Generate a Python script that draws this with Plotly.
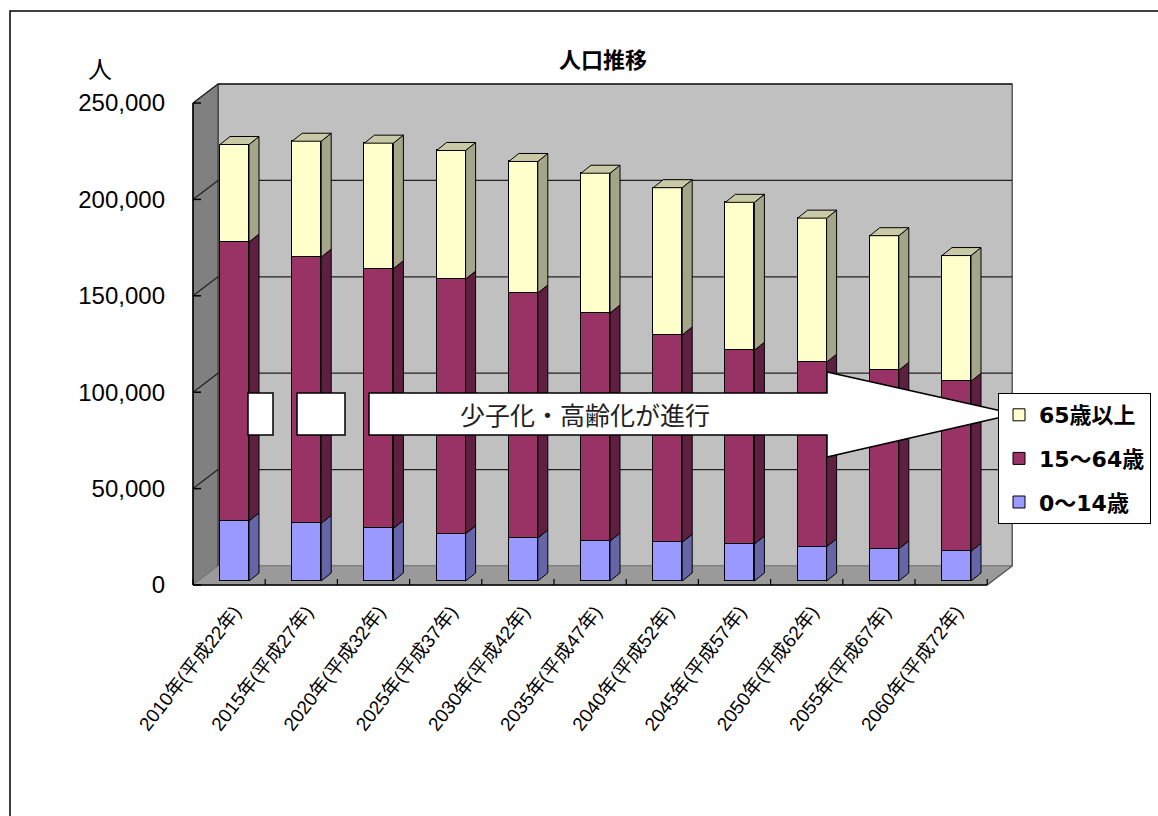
import plotly.graph_objects as go

# ---------------- data ----------------
categories = ["2010年(平成22年)", "2015年(平成27年)", "2020年(平成32年)", "2025年(平成37年)",
              "2030年(平成42年)", "2035年(平成47年)", "2040年(平成52年)", "2045年(平成57年)",
              "2050年(平成62年)", "2055年(平成67年)", "2060年(平成72年)"]
age_0_14 = [31200, 29900, 27300, 24500, 22300, 20700, 20100, 19200, 17800, 16700, 15400]
age_15_64 = [144600, 138100, 134700, 132100, 127100, 118300, 107500, 100500, 95700, 92600, 88200]
age_65_over = [50600, 60100, 65100, 66700, 68200, 72500, 76400, 76700, 74700, 69800, 65200]
series_names = ["0～14歳", "15～64歳", "65歳以上"]
y_tick_values = [0, 50000, 100000, 150000, 200000, 250000]
title_text = "人口推移"
unit_text = "人"
arrow_text = "少子化・高齢化が進行"

# ---------------- geometry (pixels) ----------------
W, H = 1158, 816
PL, PR, PT, PB = 190, 1015, 80, 590
CAT_PX = 72.2
Y_PX = 482 / 250000.0
FRONT_X_PX, FRONT_Y_PX = 193, 585      # front plane: x=-0.5, y=0
BAR_X_PX, BAR_Y_PX = 234.5, 581        # bar plane: first bar centre, y=0
BACK_DX_PX, BACK_DY_PX = 25, 19
BAR_W_PX = 29
BAR_DDX_PX, BAR_DDY_PX = 10, 8

n = len(categories)
xr_front = [-0.5 + (PL - FRONT_X_PX) / CAT_PX, -0.5 + (PR - FRONT_X_PX) / CAT_PX]
yr_front = [(FRONT_Y_PX - PB) / Y_PX, (FRONT_Y_PX - PT) / Y_PX]
xr_bar = [(PL - BAR_X_PX) / CAT_PX, (PR - BAR_X_PX) / CAT_PX]
yr_bar = [(BAR_Y_PX - PB) / Y_PX, (BAR_Y_PX - PT) / Y_PX]

bx = BACK_DX_PX / CAT_PX
by = BACK_DY_PX / Y_PX
bw = BAR_W_PX / CAT_PX
ddx = BAR_DDX_PX / CAT_PX
ddy = BAR_DDY_PX / Y_PX
YMAX = y_tick_values[-1]
x_lo, x_hi = -0.5, n - 0.5


def px2paper(px, py):
    return (px - PL) / (PR - PL), (PB - py) / (PB - PT)


front_colors = ["#9999FF", "#993366", "#FFFFCC"]
side_colors = ["#6565A8", "#5F1F40", "#A5A58A"]
top_color = "#C9C9A6"
legend_ranks = [3, 2, 1]

series = [age_0_14, age_15_64, age_65_over]

fig = go.Figure()

# front faces of bars
for k, vals in enumerate(series):
    fig.add_trace(go.Bar(
        x=list(range(n)), y=vals, name=series_names[k], width=bw,
        marker=dict(color=front_colors[k], line=dict(color="black", width=1)),
        xaxis="x2", yaxis="y2", legendgroup=f"g{k}", legendrank=legend_ranks[k],
        hoverinfo="skip"))

# side faces and top face
cum = [0] * n
for k, vals in enumerate(series):
    xs, ys = [], []
    for i in range(n):
        lo = cum[i]
        hi = cum[i] + vals[i]
        xr = i + bw / 2
        xs += [xr, xr + ddx, xr + ddx, xr, xr, None]
        ys += [lo, lo + ddy, hi + ddy, hi, lo, None]
    fig.add_trace(go.Scatter(x=xs, y=ys, mode="lines", fill="toself",
                             fillcolor=side_colors[k], line=dict(color="black", width=1),
                             xaxis="x2", yaxis="y2", showlegend=False, hoverinfo="skip"))
    cum = [cum[i] + vals[i] for i in range(n)]

xs, ys = [], []
for i in range(n):
    t = cum[i]
    xl, xr = i - bw / 2, i + bw / 2
    xs += [xl, xl + ddx, xr + ddx, xr, xl, None]
    ys += [t, t + ddy, t + ddy, t, t, None]
fig.add_trace(go.Scatter(x=xs, y=ys, mode="lines", fill="toself", fillcolor=top_color,
                         line=dict(color="black", width=1), xaxis="x2", yaxis="y2",
                         showlegend=False, hoverinfo="skip"))

# ---------------- 3D box (walls, floor, grid) ----------------
shapes = []
# back wall
shapes.append(dict(type="rect", xref="x", yref="y", x0=x_lo + bx, x1=x_hi + bx, y0=by, y1=YMAX + by,
                   fillcolor="#C0C0C0", line=dict(color="#3a3a3a", width=1.2), layer="below"))
# left wall
shapes.append(dict(type="path", xref="x", yref="y",
                   path=f"M {x_lo},0 L {x_lo},{YMAX} L {x_lo + bx},{YMAX + by} L {x_lo + bx},{by} Z",
                   fillcolor="#808080", line=dict(color="#303030", width=1), layer="below"))
# floor
shapes.append(dict(type="path", xref="x", yref="y",
                   path=f"M {x_lo},0 L {x_hi},0 L {x_hi + bx},{by} L {x_lo + bx},{by} Z",
                   fillcolor="#9A9A9A", line=dict(color="#808080", width=1), layer="below"))
# gridlines
for v in y_tick_values[1:]:
    shapes.append(dict(type="line", xref="x", yref="y", x0=x_lo + bx, x1=x_hi + bx, y0=v + by, y1=v + by,
                       line=dict(color="#222222", width=1.3), layer="below"))
    shapes.append(dict(type="line", xref="x", yref="y", x0=x_lo, x1=x_lo + bx, y0=v, y1=v + by,
                       line=dict(color="#222222", width=1.3), layer="below"))
# front vertical axis
shapes.append(dict(type="line", xref="x", yref="y", x0=x_lo, x1=x_lo, y0=0, y1=YMAX,
                   line=dict(color="black", width=1.5), layer="below"))
for v in y_tick_values:
    shapes.append(dict(type="line", xref="x", yref="y", x0=x_lo, x1=x_lo + 8 / CAT_PX, y0=v, y1=v,
                       line=dict(color="black", width=1.5), layer="below"))
# front bottom edge + category ticks
shapes.append(dict(type="line", xref="x", yref="y", x0=x_lo, x1=x_hi, y0=0, y1=0,
                   line=dict(color="black", width=1.5), layer="below"))
shapes.append(dict(type="line", xref="x", yref="y", x0=x_hi, x1=x_hi + bx, y0=0, y1=by,
                   line=dict(color="#555555", width=1.2), layer="below"))
for i in range(n + 1):
    xb = x_lo + i
    shapes.append(dict(type="line", xref="x", yref="y", x0=xb, x1=xb, y0=0, y1=6 / Y_PX,
                       line=dict(color="black", width=1.2), layer="below"))

# ---------------- block arrow ----------------
def poly_path(pts):
    s = ""
    for j, (px, py) in enumerate(pts):
        a, b = px2paper(px, py)
        s += ("M " if j == 0 else " L ") + f"{a:.5f},{b:.5f}"
    return s + " Z"

arrow_style = dict(type="path", xref="paper", yref="paper", fillcolor="white",
                   line=dict(color="black", width=1.5), layer="above")
shapes.append(dict(arrow_style, path=poly_path([(248, 393), (273, 393), (273, 435), (248, 435)])))
shapes.append(dict(arrow_style, path=poly_path([(297, 393), (345, 393), (345, 435), (297, 435)])))
shapes.append(dict(arrow_style, path=poly_path([(369, 393), (827, 393), (827, 372), (1015, 414),
                                                 (827, 457), (827, 435), (369, 435)])))

# outer frame
fx0, fy0 = px2paper(10, 11)
fx1, fy1 = px2paper(1170, 830)
shapes.append(dict(type="rect", xref="paper", yref="paper", x0=fx0, y0=fy0, x1=fx1, y1=fy1,
                   line=dict(color="black", width=1.5), fillcolor="rgba(0,0,0,0)", layer="above"))

annotations = [
    dict(text=unit_text, xref="paper", yref="paper", x=px2paper(100, 67)[0], y=px2paper(100, 67)[1],
         showarrow=False, xanchor="center", yanchor="middle",
         font=dict(family="Noto Sans CJK JP", size=24, color="black")),
    dict(text=arrow_text, xref="paper", yref="paper", x=px2paper(585, 414)[0], y=px2paper(585, 414)[1],
         showarrow=False, xanchor="center", yanchor="middle",
         font=dict(family="Noto Sans CJK JP", size=25, color="#222222")),
]

fig.update_layout(
    width=W, height=H,
    margin=dict(l=PL, r=W - PR, t=PT, b=H - PB, pad=0, autoexpand=False),
    paper_bgcolor="white", plot_bgcolor="rgba(0,0,0,0)",
    barmode="stack", bargap=0,
    title=dict(text=f"<b>{title_text}</b>", xref="container", yref="container",
               x=603 / W, y=1 - 60 / H, xanchor="center", yanchor="middle",
               font=dict(family="Noto Sans CJK JP", size=22, color="black")),
    xaxis=dict(range=xr_front, showgrid=False, zeroline=False, showline=False,
               showticklabels=False, ticks="", fixedrange=True, automargin=False),
    yaxis=dict(range=yr_front, showgrid=False, zeroline=False, showline=False, ticks="",
               tickvals=y_tick_values, tickformat=",d", ticklabelstandoff=24, automargin=False,
               tickfont=dict(family="Liberation Sans, Noto Sans CJK JP", size=24, color="black")),
    xaxis2=dict(range=xr_bar, overlaying="x", anchor="y2", side="bottom", showgrid=False,
                zeroline=False, showline=False, ticks="", tickvals=list(range(n)), ticktext=categories,
                tickangle=-52, ticklabelstandoff=6, automargin=False,
                tickfont=dict(family="Liberation Sans, Noto Sans CJK JP", size=19, color="black")),
    yaxis2=dict(range=yr_bar, overlaying="y", anchor="x2", visible=False),
    legend=dict(xref="container", yref="container", x=998 / W, y=1 - 393 / H,
                xanchor="left", yanchor="top", bgcolor="white", bordercolor="black", borderwidth=1,
                font=dict(family="DejaVu Sans, Noto Sans CJK JP", size=22, color="black", weight="bold"),
                traceorder="grouped", tracegroupgap=12),
    shapes=shapes, annotations=annotations, showlegend=True,
)

fig.write_html("out.html")
